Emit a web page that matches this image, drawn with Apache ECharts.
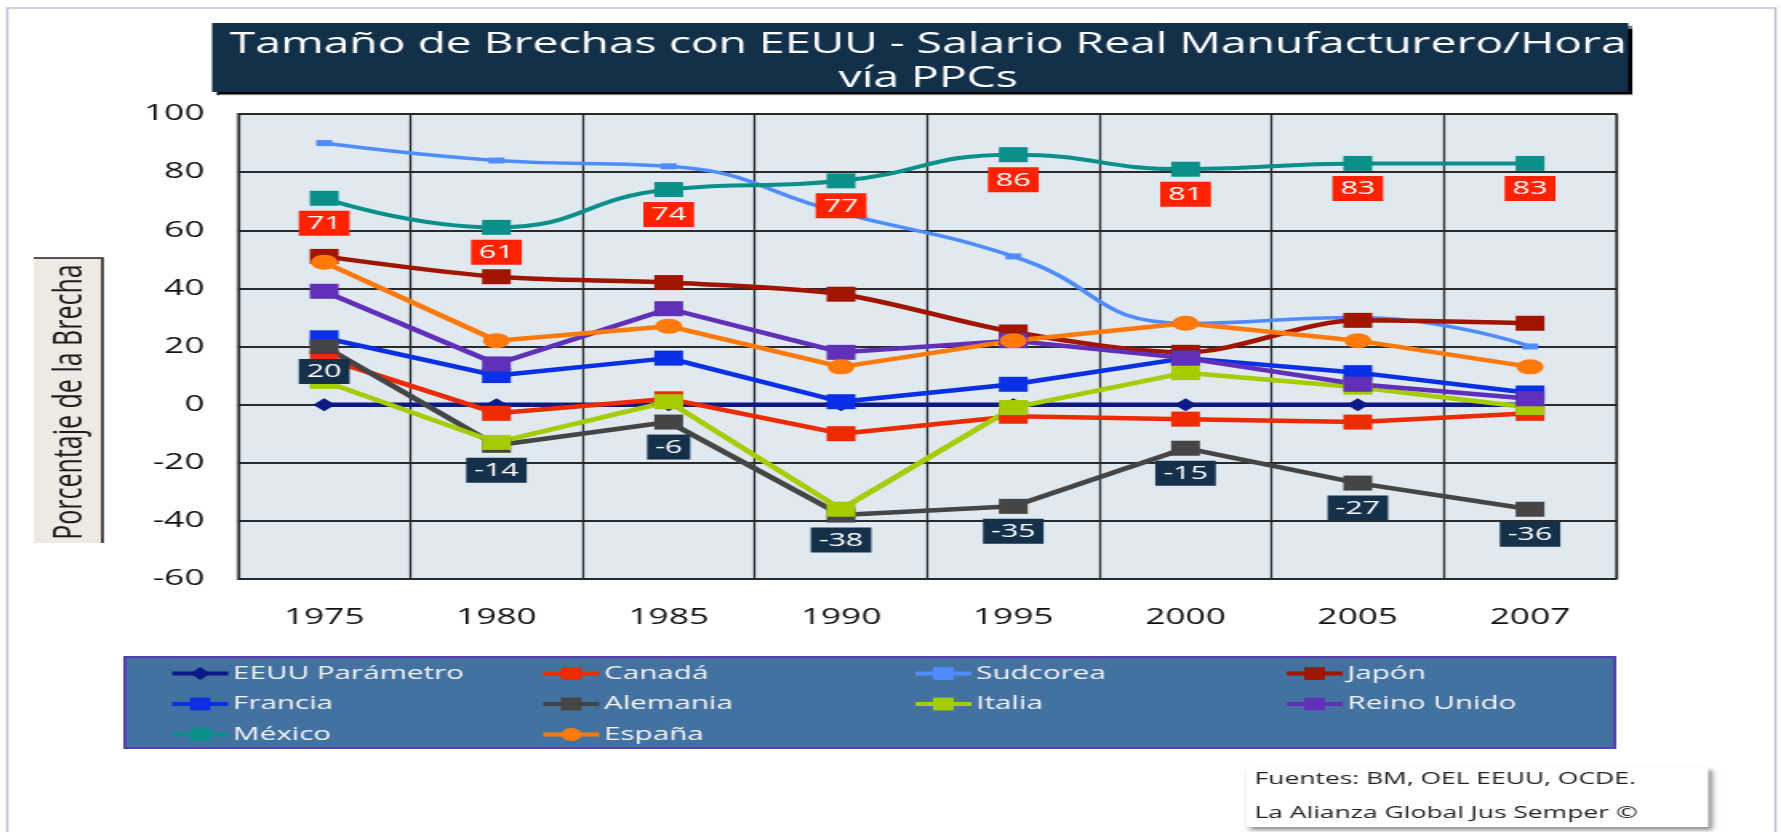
<!DOCTYPE html>
<html>
<head>
<meta charset="utf-8">
<script src="https://cdn.jsdelivr.net/npm/echarts@6/dist/echarts.min.js"></script>
<style>
html,body{margin:0;padding:0;background:#fff;overflow:hidden;width:1781px;height:832px;}
#c{width:1113px;height:832px;transform:scaleX(1.6002);transform-origin:0 0;}
</style>
</head>
<body>
<div id="c"></div>
<script>
var categories = ['1975','1980','1985','1990','1995','2000','2005','2007'];
var eeuu      = [0, 0, 0, 0, 0, 0, 0, 0];
var canada    = [16, -3, 2, -10, -4, -5, -6, -3];
var sudcorea  = [90, 84, 82, 66, 51, 28, 30, 20];
var japon     = [51, 44, 42, 38, 25, 18, 29, 28];
var francia   = [23, 10, 16, 1, 7, 16, 11, 4];
var alemania  = [20, -14, -6, -38, -35, -15, -27, -36];
var italia    = [8, -13, 1, -36, -1, 11, 6, -1];
var reinoUnido= [39, 14, 33, 18, 22, 16, 7, 2];
var mexico    = [71, 61, 74, 77, 86, 81, 83, 83];
var espana    = [49, 22, 27, 13, 22, 28, 22, 13];
var yTicks = {min: -60, max: 100, interval: 20};
var titleText = 'Tamaño de Brechas con EEUU - Salario Real Manufacturero/Hora\nvía PPCs';
var yName = 'Porcentaje de la Brecha';
var sources = ['Fuentes: BM, OEL EEUU, OCDE.', 'La Alianza Global Jus Semper ©'];

var FONT = '"Open Sans", "DejaVu Sans", sans-serif';
var chart = echarts.init(document.getElementById('c'), null, {renderer: 'canvas'});

function mk(name, data, color, opts) {
  opts = opts || {};
  var s = {
    name: name, type: 'line', data: data,
    smooth: opts.smooth || false,
    showAllSymbol: true,
    symbol: opts.symbol || 'rect',
    symbolSize: opts.symbolSize || [18, 15],
    lineStyle: {color: color, width: opts.width || 4.5},
    itemStyle: {color: color},
    emphasis: {disabled: true},
    z: 2
  };
  if (opts.labelBg) {
    s.label = {
      show: true, position: 'bottom', distance: 5,
      backgroundColor: opts.labelBg, color: '#ffffff',
      fontFamily: FONT, fontSize: 19, fontWeight: 500, lineHeight: 20,
      padding: [3, 5, 2, 5]
    };
  }
  return s;
}

var series = [
  mk('EEUU Parámetro', eeuu, '#0b1a85', {symbol: 'diamond', symbolSize: [14, 13]}),
  mk('Canadá', canada, '#ee2a00'),
  mk('Sudcorea', sudcorea, '#4f8cff', {symbol: 'rect', symbolSize: [10, 6], smooth: 0.5, width: 3.5}),
  mk('Japón', japon, '#a01400', {smooth: 0.3}),
  mk('Francia', francia, '#0a30e6'),
  mk('Alemania', alemania, '#454545', {labelBg: '#15304a'}),
  mk('Italia', italia, '#a4cc00'),
  mk('Reino Unido', reinoUnido, '#6030b8'),
  mk('México', mexico, '#0a8f8a', {smooth: 0.5, width: 4, labelBg: '#ff2200'}),
  mk('España', espana, '#ff7a0a', {symbol: 'circle', symbolSize: [17, 15]})
];

function leg(names, left) {
  return {
    data: names, orient: 'vertical', left: left, top: 664, padding: 0,
    itemWidth: 35, itemHeight: 16, itemGap: 11.5, selectedMode: false,
    lineStyle: {width: 4},
    textStyle: {color: '#f4f4f4', fontSize: 18.5, fontFamily: FONT, padding: [0, 0, 0, -2]}
  };
}

var option = {
  animation: false,
  backgroundColor: '#ffffff',
  title: {
    text: titleText, left: 575, top: 23, textAlign: 'center',
    textStyle: {color: '#ffffff', fontSize: 28.9, fontWeight: 'normal', fontFamily: FONT, lineHeight: 34}
  },
  grid: {
    left: 148.75, top: 114, width: 861.25, height: 465,
    show: true, backgroundColor: '#dfe9ef', borderColor: '#808080', borderWidth: 2
  },
  xAxis: {
    type: 'category', data: categories, boundaryGap: true,
    axisLine: {show: false}, axisTick: {show: false},
    axisLabel: {color: '#111', fontSize: 22, fontFamily: FONT, margin: 28},
    splitLine: {show: true, lineStyle: {color: '#2a2a2a', width: 1.3}}
  },
  yAxis: {
    type: 'value', min: yTicks.min, max: yTicks.max, interval: yTicks.interval,
    axisLine: {show: false}, axisTick: {show: false},
    axisLabel: {color: '#111', fontSize: 22, fontFamily: FONT, margin: 21},
    splitLine: {show: true, lineStyle: {color: '#2a2a2a', width: 2}}
  },
  legend: [
    leg(['EEUU Parámetro', 'Francia', 'México'], 105.6),
    leg(['Canadá', 'Alemania', 'España'], 337.5),
    leg(['Sudcorea', 'Italia'], 570),
    leg(['Japón', 'Reino Unido'], 802)
  ],
  graphic: [
    {type: 'rect', z: -10, shape: {x: 4.5, y: 8, width: 1105, height: 900},
     style: {fill: 'none', stroke: '#c0c0dc', lineWidth: 1.5}},
    {type: 'rect', z: -5, shape: {x: 132.5, y: 23, width: 885, height: 69},
     style: {fill: '#13304b', shadowColor: '#000', shadowOffsetX: 2, shadowOffsetY: 3, shadowBlur: 1}},
    {type: 'rect', z: -5, shape: {x: 21, y: 258, width: 43, height: 285},
     style: {fill: '#efe9e4'}},
    {type: 'polyline', z: -4, shape: {points: [[21, 258], [64, 258], [64, 543]]},
     style: {fill: 'none', stroke: '#222', lineWidth: 1.6}},
    {type: 'text', z: 5, x: 44, y: 402, rotation: Math.PI / 2,
     style: {text: yName, fill: '#1a1a1a', font: '25px ' + FONT, textAlign: 'center', textVerticalAlign: 'middle'}},
    {type: 'rect', z: -5, shape: {x: 78, y: 657, width: 931, height: 91},
     style: {fill: '#4472a0', stroke: '#5540b0', lineWidth: 2}},
    {type: 'rect', z: -5, shape: {x: 779, y: 767, width: 288.5, height: 60},
     style: {fill: '#ffffff', shadowColor: 'rgba(0,0,0,0.45)', shadowOffsetX: 2, shadowOffsetY: 3, shadowBlur: 4}},
    {type: 'text', z: 5, x: 784, y: 779,
     style: {text: sources[0], fill: '#222', font: '16.5px ' + FONT, textVerticalAlign: 'middle'}},
    {type: 'text', z: 5, x: 784, y: 813,
     style: {text: sources[1], fill: '#222', font: '16.5px ' + FONT, textVerticalAlign: 'middle'}}
  ],
  series: series
};
chart.setOption(option);
</script>
</body>
</html>
